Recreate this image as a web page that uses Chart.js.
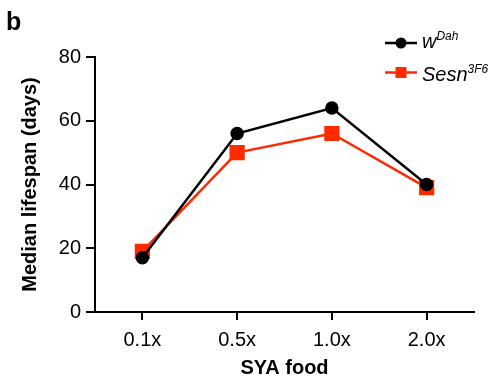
<!DOCTYPE html>
<html>
<head>
<meta charset="utf-8">
<script src="https://cdn.jsdelivr.net/npm/chart.js@4/dist/chart.umd.min.js"></script>
<style>
  html, body { margin: 0; padding: 0; background: #fff; }
  #wrap { width: 496px; height: 381px; position: relative; }
</style>
</head>
<body>
<div id="wrap"><canvas id="lifespan"></canvas></div>
<script>
// data
const foodLevels = ['0.1x', '0.5x', '1.0x', '2.0x'];
const wDahMedian = [17, 56, 64, 40];
const sesnMedian = [19, 50, 56, 39];
const seriesNames = ['w', 'Sesn'];
const seriesSup = ['Dah', '3F6'];
const yTicks = [0, 20, 40, 60, 80];

const FONT = '"Liberation Sans", Arial, Helvetica, sans-serif';
const RED = '#ff2a00';

// legend with superscripts + panel letter, drawn by hand
const figureExtras = {
  id: 'figureExtras',
  afterDraw(chart) {
    const ctx = chart.ctx;
    ctx.save();
    // panel letter
    ctx.fillStyle = '#000';
    ctx.font = 'bold 25px ' + FONT;
    ctx.textBaseline = 'alphabetic';
    ctx.textAlign = 'left';
    ctx.fillText('b', 6, 30);

    // row: line y, main text baseline, superscript baseline
    const rows = [[43, 48, 40], [72.5, 81, 73]];
    chart.data.datasets.forEach((ds, i) => {
      const [y, base, supBase] = rows[i];
      ctx.strokeStyle = ds.borderColor;
      ctx.lineWidth = 2.5;
      ctx.beginPath();
      ctx.moveTo(385, y);
      ctx.lineTo(417, y);
      ctx.stroke();
      ctx.fillStyle = ds.borderColor;
      if (ds.pointStyle === 'rect') {
        ctx.fillRect(395.5, y - 5.5, 11, 11);
      } else {
        ctx.beginPath();
        ctx.arc(401, y, 5.5, 0, Math.PI * 2);
        ctx.fill();
      }
      ctx.fillStyle = '#000';
      ctx.font = 'italic 20px ' + FONT;
      ctx.fillText(seriesNames[i], 422, base);
      const w = ctx.measureText(seriesNames[i]).width;
      ctx.font = 'italic 12px ' + FONT;
      ctx.fillText(seriesSup[i], 422 + w, supBase);
    });
    ctx.restore();
  }
};

new Chart(document.getElementById('lifespan').getContext('2d'), {
  type: 'line',
  data: {
    labels: foodLevels,
    datasets: [
      {
        label: seriesNames[0] + seriesSup[0],
        data: wDahMedian,
        borderColor: '#000',
        backgroundColor: '#000',
        borderWidth: 2.5,
        pointStyle: 'circle',
        pointRadius: 5.5,
        pointHoverRadius: 5.5,
        tension: 0
      },
      {
        label: seriesNames[1] + seriesSup[1],
        data: sesnMedian,
        borderColor: RED,
        backgroundColor: RED,
        borderWidth: 2.5,
        pointStyle: 'rect',
        pointRadius: 9,
        pointHoverRadius: 9,
        tension: 0
      }
    ]
  },
  options: {
    responsive: true,
    maintainAspectRatio: false,
    animation: false,
    layout: { padding: { top: 57, right: 22, left: 0, bottom: 0 } },
    plugins: {
      legend: { display: false },
      tooltip: { enabled: false }
    },
    scales: {
      x: {
        type: 'category',
        offset: true,
        afterFit: (scale) => { scale.height = 69; },
        border: { color: '#000', width: 2 },
        grid: { drawOnChartArea: false, offset: false, color: '#000', lineWidth: 2, tickLength: 8 },
        ticks: { color: '#000', padding: 8, font: { family: FONT, size: 20 } },
        title: {
          display: true,
          text: 'SYA food',
          color: '#000',
          padding: { top: 0, bottom: 1 },
          font: { family: FONT, size: 20, weight: 'bold' }
        }
      },
      y: {
        min: 0,
        max: 80,
        afterFit: (scale) => { scale.width = 95; },
        afterBuildTicks: (scale) => { scale.ticks = yTicks.map(v => ({ value: v })); },
        border: { color: '#000', width: 2 },
        grid: { drawOnChartArea: false, color: '#000', lineWidth: 2, tickLength: 9 },
        ticks: { color: '#000', padding: 5, font: { family: FONT, size: 20 } },
        title: {
          display: true,
          text: 'Median lifespan (days)',
          color: '#000',
          padding: { top: 18, bottom: 0 },
          font: { family: FONT, size: 20, weight: 'bold' }
        }
      }
    }
  },
  plugins: [figureExtras]
});
</script>
</body>
</html>
